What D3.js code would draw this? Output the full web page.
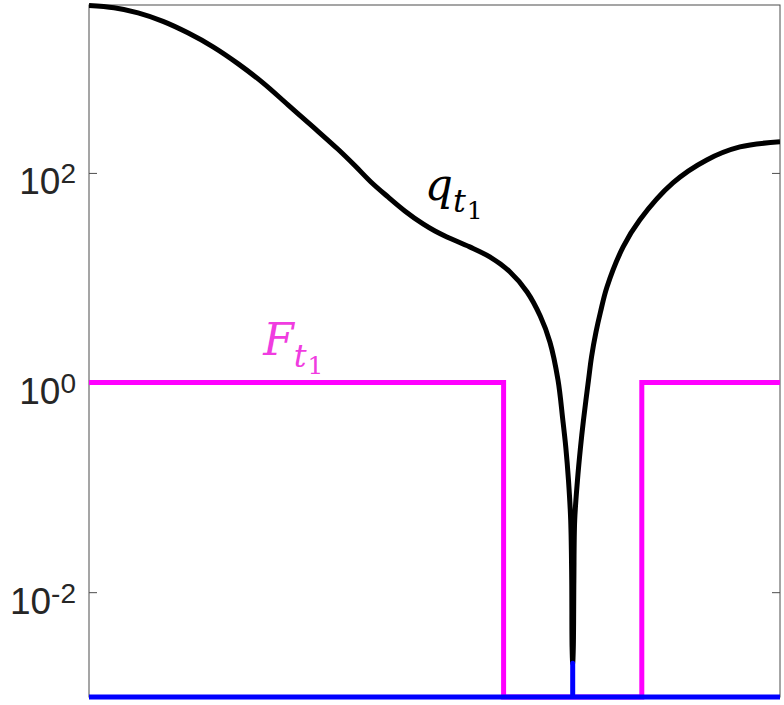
<!doctype html>
<html>
  <head>
    <meta charset="utf-8">
    <script src="https://cdn.jsdelivr.net/npm/d3@7"></script>
    <title>q and F on a log scale</title>
    <style>
      body { margin: 0; background: #fff; }
      svg { display: block; }
      .tick text { font-family: "Liberation Sans", Arial, sans-serif; fill: #262626; }
      .tick line { stroke: #4d4d4d; }
    </style>
  </head>
  <body>
    <div id="chart"></div>
    <script>
      // black curve q_t1, sampled along x in [0, 1]
      const qX = [0, 0.0362, 0.071, 0.1071, 0.143, 0.1795, 0.216, 0.2518, 0.288, 0.3242,
                  0.360, 0.3850, 0.408, 0.4327, 0.457, 0.4834, 0.5007, 0.518, 0.551, 0.580,
                  0.609, 0.634, 0.653, 0.667, 0.6787, 0.6857, 0.6900, 0.6939, 0.6971, 0.6986,
                  0.6991, 0.700, 0.7009, 0.7017, 0.7029, 0.7069, 0.7113, 0.7156, 0.7229, 0.7272,
                  0.7337, 0.7402, 0.7496, 0.773, 0.797, 0.845, 0.894, 0.942, 1.0];
      const qY = [3950, 3758, 3365, 2793, 2172, 1596, 1098, 723, 446, 275,
                  169, 117, 82, 59, 43.4, 32.6, 27.9, 24.5, 19.7, 15.8,
                  11.4, 7.31, 4.31, 2.44, 1.06, 0.44, 0.242, 0.117, 0.0486, 0.0130,
                  0.00298, 0.0021, 0.00298, 0.0130, 0.0486, 0.117, 0.242, 0.44, 1.06, 1.75,
                  3.03, 4.71, 8.17, 19.7, 35.6, 80.3, 133, 177, 198];

      // magenta step F_t1
      const fX = [0, 0.6, 0.6, 0.8, 0.8, 1];
      const fY = [1, 1, 0, 0, 1, 1];

      // blue baseline with its spike at the dip
      const bX = [0, 0.7, 0.7, 0.7, 1];
      const bY = [0, 0, 0.0021, 0, 0];

      const yTicks = [1e-2, 1, 1e2];
      const yTickExp = ["-2", "0", "2"];

      const W = 784, H = 705;
      const margin = {left: 89, top: 5, right: 4, bottom: 8};
      const width = W - margin.left - margin.right,
            height = H - margin.top - margin.bottom;
      const yMin = 1e-3, yMax = 4000;

      const x = d3.scaleLinear().domain([0, 1]).range([0, width]);
      const y = d3.scaleLog().domain([yMin, yMax]).range([height, 0]);

      const svg = d3.select("#chart").append("svg")
          .attr("width", W)
          .attr("height", H)
        .append("g")
          .attr("transform", "translate(" + margin.left + "," + margin.top + ")");

      svg.append("defs").append("clipPath")
          .attr("id", "clip")
        .append("rect")
          .attr("x", 0).attr("y", -5)
          .attr("width", width).attr("height", height + 10);

      // box
      svg.append("rect")
          .attr("width", width)
          .attr("height", height)
          .attr("fill", "none")
          .attr("stroke", "#4d4d4d")
          .attr("stroke-width", 1);

      const yLeft = svg.append("g")
          .call(d3.axisLeft(y).tickValues(yTicks).tickSize(-8).tickPadding(13).tickFormat(() => "10"));
      yLeft.select(".domain").remove();
      yLeft.selectAll(".tick text")
          .attr("font-size", 37)
          .attr("dy", 21)
          .each(function(d, i) {
            d3.select(this).append("tspan")
                .attr("dy", -11)
                .attr("font-size", 28)
                .text(yTickExp[i]);
          });

      const yRight = svg.append("g")
          .attr("transform", "translate(" + width + ",0)")
          .call(d3.axisRight(y).tickValues(yTicks).tickSize(-8).tickFormat(""));
      yRight.select(".domain").remove();

      const line = d3.line()
          .x(d => x(d[0]))
          .y(d => y(Math.max(d[1], yMin)));

      const plot = svg.append("g").attr("clip-path", "url(#clip)");

      plot.append("path")
          .datum(d3.zip(fX, fY))
          .attr("d", line)
          .attr("fill", "none")
          .attr("stroke", "#ff00ff")
          .attr("stroke-width", 5);

      plot.append("path")
          .datum(d3.zip(qX, qY))
          .attr("d", line.curve(d3.curveCatmullRom.alpha(0.5)))
          .attr("fill", "none")
          .attr("stroke", "#000")
          .attr("stroke-width", 5)
          .attr("stroke-linejoin", "round");

      line.curve(d3.curveLinear);
      plot.append("path")
          .datum(d3.zip(bX, bY))
          .attr("d", line)
          .attr("fill", "none")
          .attr("stroke", "#0000ff")
          .attr("stroke-width", 5)
          .attr("stroke-linejoin", "round")
          .attr("stroke-linecap", "round");

      // math labels
      function mathLabel(px, val, base, color) {
        const t = svg.append("text")
            .attr("x", x(px))
            .attr("y", y(val))
            .attr("fill", color)
            .attr("font-family", "'DejaVu Serif', serif");
        t.append("tspan").attr("font-style", "italic").attr("font-size", 44).text(base);
        t.append("tspan").attr("font-style", "italic").attr("font-size", 32).attr("dy", 12).text("t");
        t.append("tspan").attr("font-size", 25).attr("dy", 7).attr("dx", 1).text("1");
      }
      mathLabel(0.486, 55, "q", "#000");
      mathLabel(0.252, 1.83, "F", "#f03ce0");
    </script>
  </body>
</html>
